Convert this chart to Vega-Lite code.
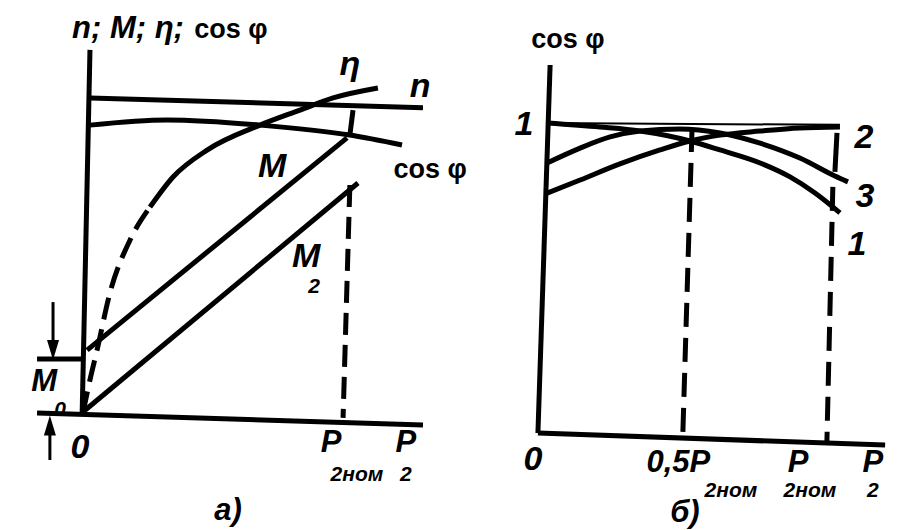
{
  "$schema": "https://vega.github.io/schema/vega-lite/v6.json",
  "background": "white",
  "padding": 0,
  "spacing": 0,
  "bounds": "flush",
  "config": {"view": {"stroke": null}, "axis": {"disable": true}},
  "datasets": {
    "a_solid": [
      {"s": "yaxis", "i": 0, "x": 0.019, "y": 1.144}, {"s": "yaxis", "i": 1, "x": -0.011, "y": 0},
      {"s": "xaxis", "i": 0, "x": -0.183, "y": 0.009}, {"s": "xaxis", "i": 1, "x": 1.29, "y": -0.028},
      {"s": "m0", "i": 0, "x": -0.183, "y": 0.178}, {"s": "m0", "i": 1, "x": -0.004, "y": 0.178},
      {"s": "n", "i": 0, "x": 0.019, "y": 0.994}, {"s": "n", "i": 1, "x": 1.29, "y": 0.963},
      {"s": "cos", "i": 0, "x": 0.019, "y": 0.909}, {"s": "cos", "i": 1, "x": 0.313, "y": 0.925}, {"s": "cos", "i": 2, "x": 0.668, "y": 0.909}, {"s": "cos", "i": 3, "x": 1.011, "y": 0.878}, {"s": "cos", "i": 4, "x": 1.21, "y": 0.847},
      {"s": "eta", "i": 0, "x": 0.248, "y": 0.653}, {"s": "eta", "i": 1, "x": 0.336, "y": 0.747}, {"s": "eta", "i": 2, "x": 0.466, "y": 0.831}, {"s": "eta", "i": 3, "x": 0.668, "y": 0.909}, {"s": "eta", "i": 4, "x": 0.821, "y": 0.956}, {"s": "eta", "i": 5, "x": 0.947, "y": 0.994}, {"s": "eta", "i": 6, "x": 1.118, "y": 1.025},
      {"s": "M", "i": 0, "x": 0.008, "y": 0.206}, {"s": "M", "i": 1, "x": 1.0, "y": 0.869},
      {"s": "M2", "i": 0, "x": -0.008, "y": 0.0125}, {"s": "M2", "i": 1, "x": 1.042, "y": 0.728},
      {"s": "p2top", "i": 0, "x": 1.023, "y": 0.956}, {"s": "p2top", "i": 1, "x": 1.011, "y": 0.878}
    ],
    "a_dashed": [
      {"s": "eta0", "i": 0, "x": -0.008, "y": 0.009}, {"s": "eta0", "i": 1, "x": 0.019, "y": 0.113}, {"s": "eta0", "i": 2, "x": 0.046, "y": 0.206}, {"s": "eta0", "i": 3, "x": 0.095, "y": 0.384}, {"s": "eta0", "i": 4, "x": 0.172, "y": 0.55}, {"s": "eta0", "i": 5, "x": 0.248, "y": 0.653},
      {"s": "p2", "i": 0, "x": 1.011, "y": 0.722}, {"s": "p2", "i": 1, "x": 0.985, "y": -0.006}
    ],
    "a_shafts": [
      {"s": "down", "i": 0, "x": -0.122, "y": 0.356}, {"s": "down", "i": 1, "x": -0.122, "y": 0.222},
      {"s": "up", "i": 0, "x": -0.134, "y": -0.044}, {"s": "up", "i": 1, "x": -0.134, "y": -0.1375}
    ],
    "a_heads": [
      {"dir": "down", "x": -0.122, "y": 0.206},
      {"dir": "up", "x": -0.134, "y": -0.03}
    ],
    "a_title": [{"label": "n; M; η;", "x": 0.164, "y": 1.181}],
    "a_big": [
      {"label": "η", "x": 1.011, "y": 1.066},
      {"label": "n", "x": 1.279, "y": 0.997},
      {"label": "M", "x": 0.714, "y": 0.747},
      {"label": "M", "x": 0.844, "y": 0.466},
      {"label": "0", "x": -0.019, "y": -0.131}
    ],
    "a_p": [
      {"label": "M", "x": -0.156, "y": 0.078},
      {"label": "P", "x": 0.939, "y": -0.1125},
      {"label": "P", "x": 1.225, "y": -0.1125},
      {"label": "а)", "x": 0.546, "y": -0.325}
    ],
    "a_sub": [
      {"label": "2", "x": 0.874, "y": 0.385},
      {"label": "0", "x": -0.095, "y": 0.0},
      {"label": "2ном", "x": 1.038, "y": -0.203},
      {"label": "2", "x": 1.225, "y": -0.203}
    ],
    "a_cos": [
      {"label": "cos φ", "x": 0.557, "y": 1.181},
      {"label": "cos φ", "x": 1.317, "y": 0.744}
    ],
    "b_solid": [
      {"s": "yaxis", "i": 0, "x": 0.034, "y": 1.187}, {"s": "yaxis", "i": 1, "x": -0.007, "y": 0},
      {"s": "xaxis", "i": 0, "x": -0.007, "y": 0}, {"s": "xaxis", "i": 1, "x": 1.162, "y": -0.039},
      {"s": "c1", "i": 0, "x": 0.024, "y": 1.0}, {"s": "c1", "i": 1, "x": 0.202, "y": 0.987}, {"s": "c1", "i": 2, "x": 0.337, "y": 0.974}, {"s": "c1", "i": 3, "x": 0.505, "y": 0.942}, {"s": "c1", "i": 4, "x": 0.606, "y": 0.913}, {"s": "c1", "i": 5, "x": 0.741, "y": 0.871}, {"s": "c1", "i": 6, "x": 0.842, "y": 0.826}, {"s": "c1", "i": 7, "x": 0.926, "y": 0.774}, {"s": "c1", "i": 8, "x": 1.01, "y": 0.71},
      {"s": "c2", "i": 0, "x": 0.024, "y": 0.774}, {"s": "c2", "i": 1, "x": 0.135, "y": 0.816}, {"s": "c2", "i": 2, "x": 0.269, "y": 0.868}, {"s": "c2", "i": 3, "x": 0.404, "y": 0.913}, {"s": "c2", "i": 4, "x": 0.505, "y": 0.942}, {"s": "c2", "i": 5, "x": 0.606, "y": 0.961}, {"s": "c2", "i": 6, "x": 0.741, "y": 0.974}, {"s": "c2", "i": 7, "x": 0.875, "y": 0.984}, {"s": "c2", "i": 8, "x": 1.01, "y": 0.987},
      {"s": "c3", "i": 0, "x": 0.024, "y": 0.871}, {"s": "c3", "i": 1, "x": 0.135, "y": 0.919}, {"s": "c3", "i": 2, "x": 0.236, "y": 0.955}, {"s": "c3", "i": 3, "x": 0.337, "y": 0.974}, {"s": "c3", "i": 4, "x": 0.471, "y": 0.981}, {"s": "c3", "i": 5, "x": 0.606, "y": 0.968}, {"s": "c3", "i": 6, "x": 0.741, "y": 0.935}, {"s": "c3", "i": 7, "x": 0.875, "y": 0.887}, {"s": "c3", "i": 8, "x": 0.993, "y": 0.829}, {"s": "c3", "i": 9, "x": 1.037, "y": 0.81},
      {"s": "p2top", "i": 0, "x": 1.0, "y": 0.968}, {"s": "p2top", "i": 1, "x": 0.993, "y": 0.842}
    ],
    "b_thin": [
      {"s": "level", "i": 0, "x": 0.024, "y": 1.0}, {"s": "level", "i": 1, "x": 1.01, "y": 0.994}
    ],
    "b_dashed": [
      {"s": "half", "i": 0, "x": 0.512, "y": 0.984}, {"s": "half", "i": 1, "x": 0.481, "y": 0},
      {"s": "nom", "i": 0, "x": 0.986, "y": 0.794}, {"s": "nom", "i": 1, "x": 0.966, "y": -0.029}
    ],
    "b_big": [
      {"label": "1", "x": -0.054, "y": 0.961},
      {"label": "2", "x": 1.091, "y": 0.919},
      {"label": "3", "x": 1.094, "y": 0.729},
      {"label": "1", "x": 1.067, "y": 0.574},
      {"label": "0", "x": -0.024, "y": -0.119}
    ],
    "b_p": [
      {"label": "0,5P", "x": 0.466, "y": -0.126},
      {"label": "P", "x": 0.869, "y": -0.126},
      {"label": "P", "x": 1.121, "y": -0.126},
      {"label": "б)", "x": 0.488, "y": -0.287}
    ],
    "b_sub": [
      {"label": "2ном", "x": 0.643, "y": -0.206},
      {"label": "2ном", "x": 0.909, "y": -0.206},
      {"label": "2", "x": 1.121, "y": -0.206}
    ],
    "b_cos": [{"label": "cos φ", "x": 0.094, "y": 1.242}]
  },
  "hconcat": [
    {
      "width": 478,
      "height": 530,
      "encoding": {
        "x": {"field": "x", "type": "quantitative", "scale": {"domain": [-0.3244, 1.5], "nice": false, "zero": false}},
        "y": {"field": "y", "type": "quantitative", "scale": {"domain": [-0.35625, 1.3], "nice": false, "zero": false}}
      },
      "layer": [
        {"data": {"name": "a_solid"}, "mark": {"type": "line", "color": "black", "strokeWidth": 5, "interpolate": "monotone", "strokeCap": "butt"}, "encoding": {"detail": {"field": "s"}, "order": {"field": "i"}}},
        {"data": {"name": "a_dashed"}, "mark": {"type": "line", "color": "black", "strokeWidth": 5, "interpolate": "monotone", "strokeDash": [22, 10], "strokeCap": "butt"}, "encoding": {"detail": {"field": "s"}, "order": {"field": "i"}}},
        {"data": {"name": "a_shafts"}, "mark": {"type": "line", "color": "black", "strokeWidth": 3}, "encoding": {"detail": {"field": "s"}, "order": {"field": "i"}}},
        {"data": {"name": "a_heads"}, "mark": {"type": "point", "filled": true, "color": "black", "opacity": 1, "size": 400}, "encoding": {"shape": {"field": "dir", "type": "nominal", "legend": null, "scale": {"domain": ["down", "up"], "range": ["M-0.6,-1L0,1L0.6,-1Z", "M-0.6,1L0,-1L0.6,1Z"]}}}},
        {"data": {"name": "a_title"}, "mark": {"type": "text", "font": "Liberation Sans", "fontStyle": "italic", "fontWeight": "bold", "fontSize": 31, "align": "center", "baseline": "alphabetic", "color": "black"}, "encoding": {"text": {"field": "label"}}},
        {"data": {"name": "a_big"}, "mark": {"type": "text", "font": "Liberation Sans", "fontStyle": "italic", "fontWeight": "bold", "fontSize": 34, "align": "center", "baseline": "alphabetic", "color": "black"}, "encoding": {"text": {"field": "label"}}},
        {"data": {"name": "a_p"}, "mark": {"type": "text", "font": "Liberation Sans", "fontStyle": "italic", "fontWeight": "bold", "fontSize": 31, "align": "center", "baseline": "alphabetic", "color": "black"}, "encoding": {"text": {"field": "label"}}},
        {"data": {"name": "a_sub"}, "mark": {"type": "text", "font": "Liberation Sans", "fontStyle": "italic", "fontWeight": "bold", "fontSize": 21, "align": "center", "baseline": "alphabetic", "color": "black"}, "encoding": {"text": {"field": "label"}}},
        {"data": {"name": "a_cos"}, "mark": {"type": "text", "font": "Liberation Sans", "fontWeight": "bold", "fontSize": 27, "align": "center", "baseline": "alphabetic", "color": "black"}, "encoding": {"text": {"field": "label"}}}
      ]
    },
    {
      "width": 442,
      "height": 530,
      "encoding": {
        "x": {"field": "x", "type": "quantitative", "scale": {"domain": [-0.2088, 1.2795], "nice": false, "zero": false}},
        "y": {"field": "y", "type": "quantitative", "scale": {"domain": [-0.3129, 1.3968], "nice": false, "zero": false}}
      },
      "layer": [
        {"data": {"name": "b_solid"}, "mark": {"type": "line", "color": "black", "strokeWidth": 5, "interpolate": "monotone", "strokeCap": "butt"}, "encoding": {"detail": {"field": "s"}, "order": {"field": "i"}}},
        {"data": {"name": "b_thin"}, "mark": {"type": "line", "color": "black", "strokeWidth": 2}, "encoding": {"detail": {"field": "s"}, "order": {"field": "i"}}},
        {"data": {"name": "b_dashed"}, "mark": {"type": "line", "color": "black", "strokeWidth": 5, "strokeDash": [24, 11], "strokeCap": "butt"}, "encoding": {"detail": {"field": "s"}, "order": {"field": "i"}}},
        {"data": {"name": "b_big"}, "mark": {"type": "text", "font": "Liberation Sans", "fontStyle": "italic", "fontWeight": "bold", "fontSize": 34, "align": "center", "baseline": "alphabetic", "color": "black"}, "encoding": {"text": {"field": "label"}}},
        {"data": {"name": "b_p"}, "mark": {"type": "text", "font": "Liberation Sans", "fontStyle": "italic", "fontWeight": "bold", "fontSize": 31, "align": "center", "baseline": "alphabetic", "color": "black"}, "encoding": {"text": {"field": "label"}}},
        {"data": {"name": "b_sub"}, "mark": {"type": "text", "font": "Liberation Sans", "fontStyle": "italic", "fontWeight": "bold", "fontSize": 21, "align": "center", "baseline": "alphabetic", "color": "black"}, "encoding": {"text": {"field": "label"}}},
        {"data": {"name": "b_cos"}, "mark": {"type": "text", "font": "Liberation Sans", "fontWeight": "bold", "fontSize": 27, "align": "center", "baseline": "alphabetic", "color": "black"}, "encoding": {"text": {"field": "label"}}}
      ]
    }
  ]
}
